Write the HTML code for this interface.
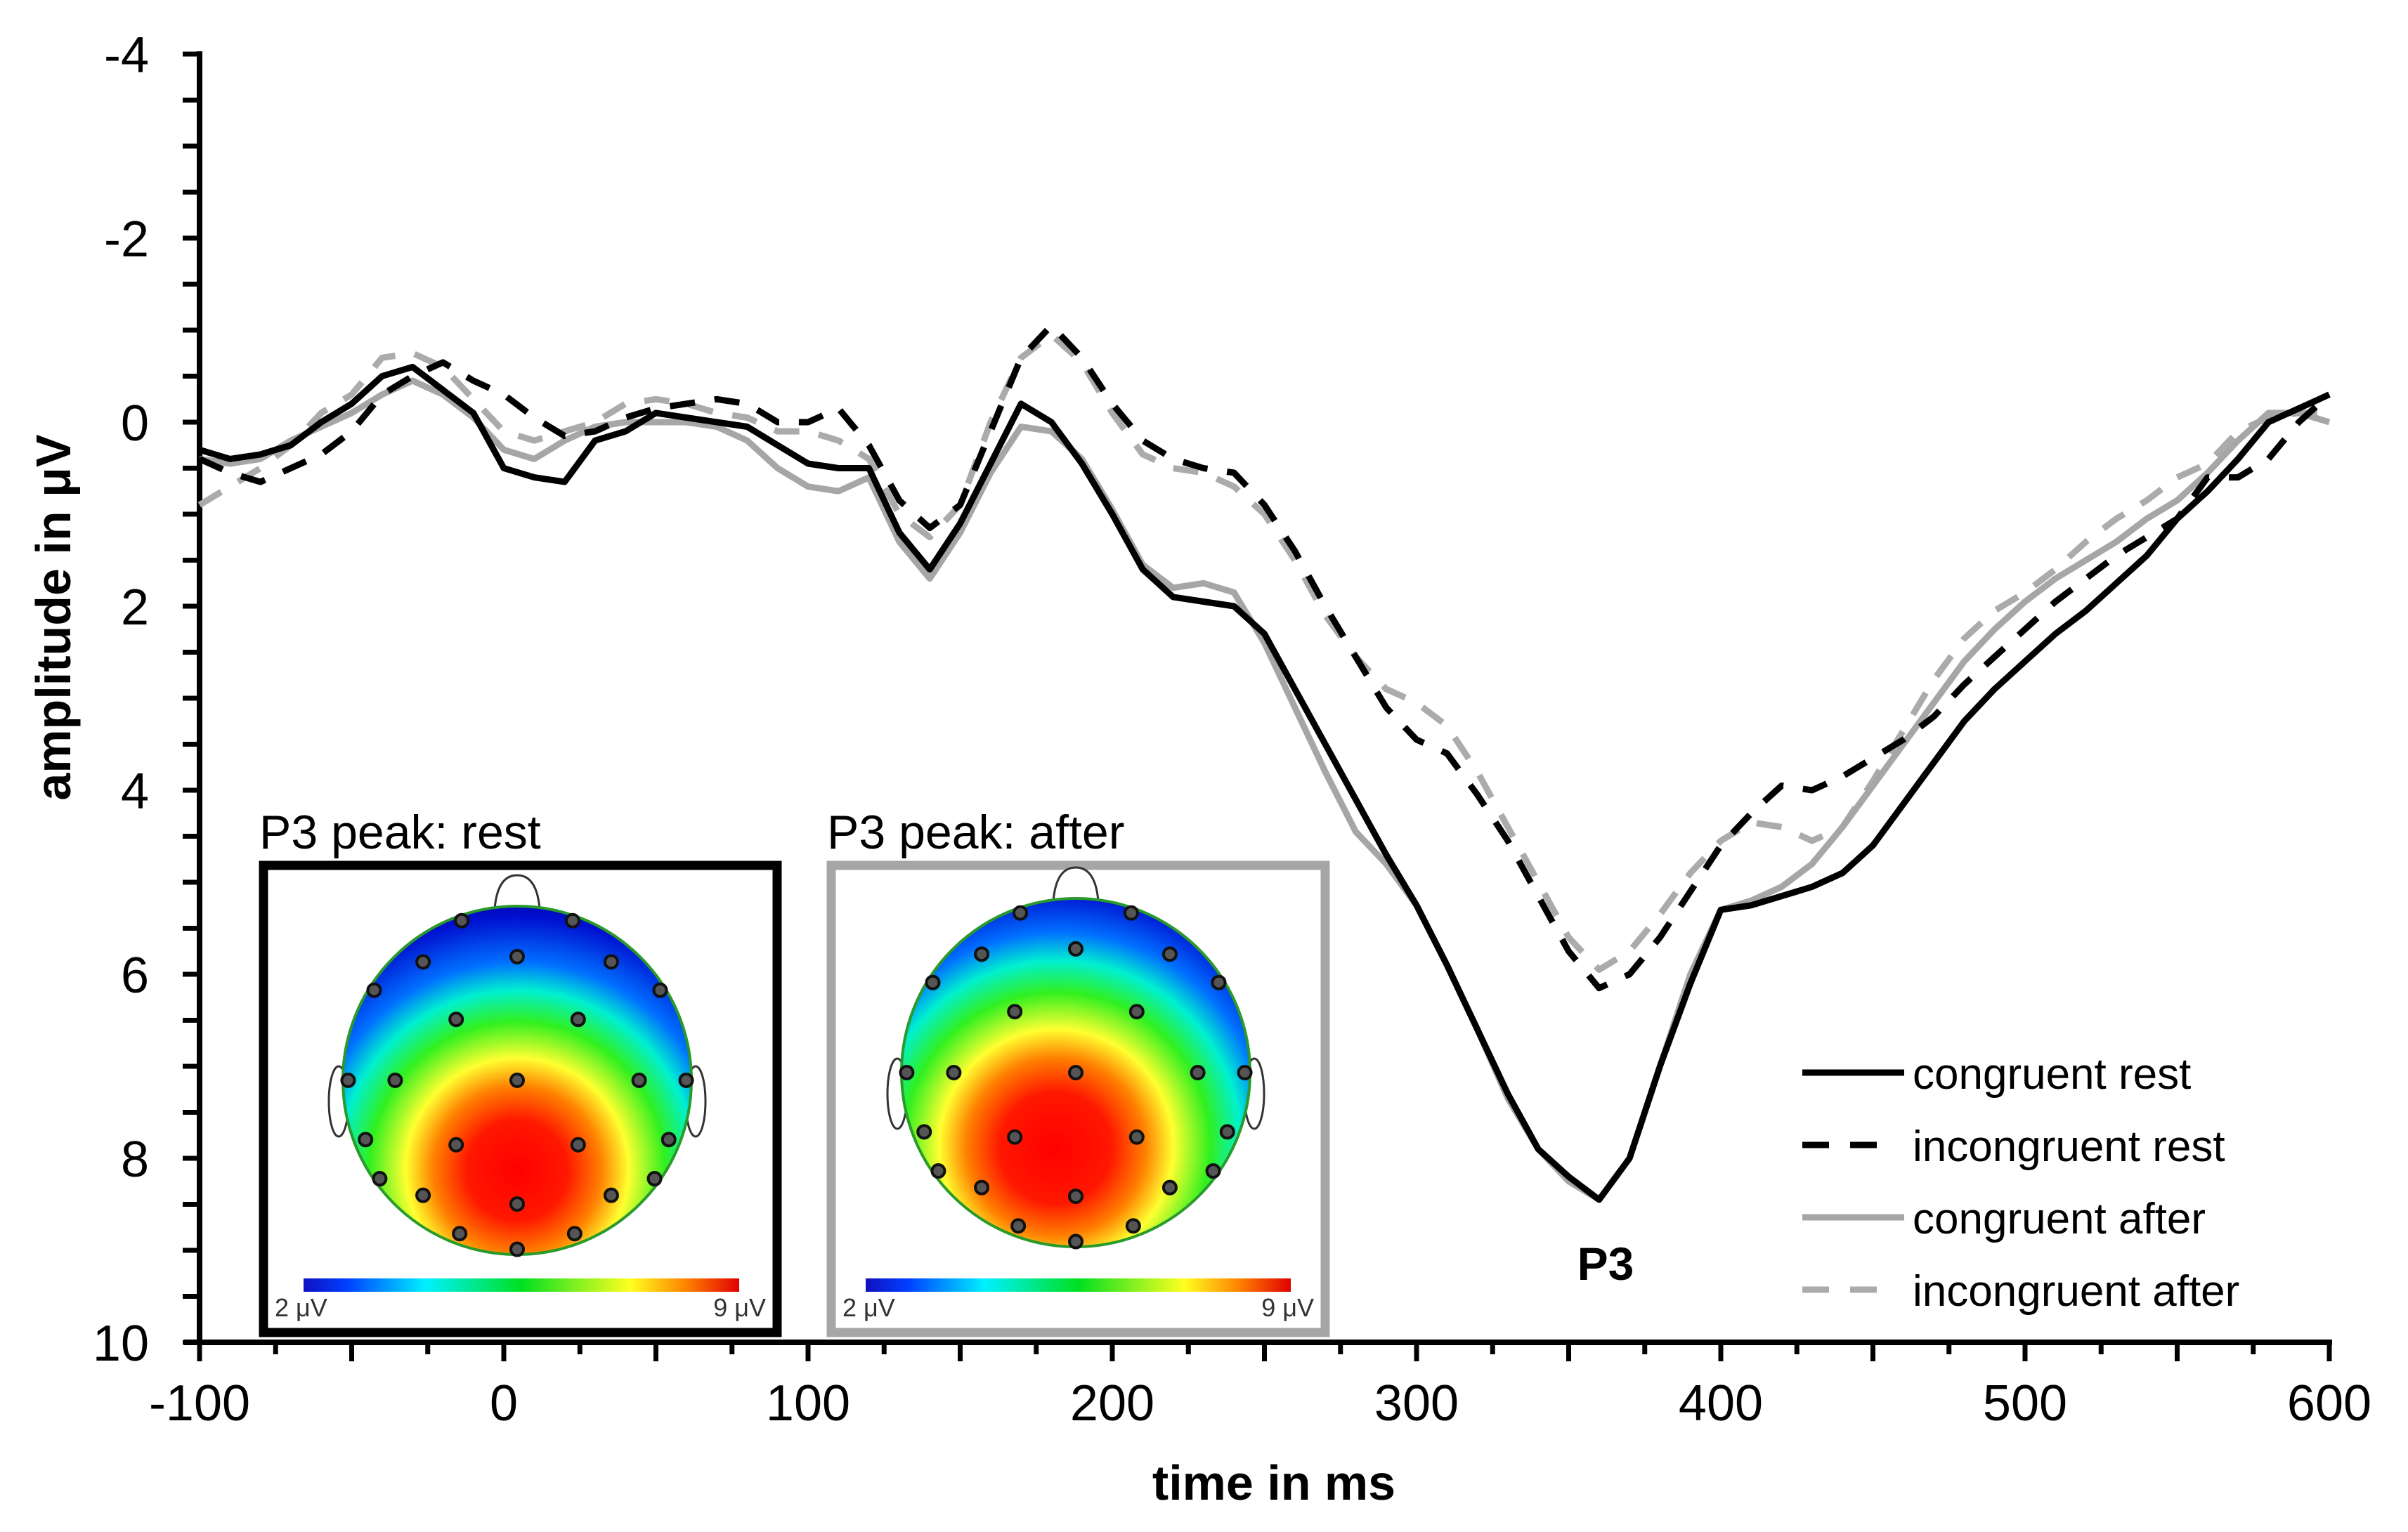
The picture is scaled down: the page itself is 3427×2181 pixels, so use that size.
<!DOCTYPE html>
<html><head><meta charset="utf-8"><style>html,body{margin:0;padding:0;background:#fff}svg{display:block}text{font-family:"Liberation Sans",Arial,sans-serif}</style></head>
<body>
<svg id="chart" width="3427" height="2181" viewBox="0 0 3427 2181" xmlns="http://www.w3.org/2000/svg">
<defs>
<linearGradient id="cbar" x1="0" x2="1" y1="0" y2="0">
<stop offset="0" stop-color="#1010c0"/><stop offset="0.1" stop-color="#0040ff"/><stop offset="0.28" stop-color="#00f0ff"/><stop offset="0.5" stop-color="#00e020"/><stop offset="0.75" stop-color="#ffff20"/><stop offset="0.88" stop-color="#ff8000"/><stop offset="1" stop-color="#e00000"/>
</linearGradient>
<radialGradient id="heat1" cx="0.5" cy="0.75" r="0.8" fx="0.5" fy="0.76">
<stop offset="0" stop-color="#ff0000"/><stop offset="0.18" stop-color="#ff1800"/><stop offset="0.3" stop-color="#ff8000"/><stop offset="0.4" stop-color="#ffff30"/><stop offset="0.53" stop-color="#30f020"/><stop offset="0.64" stop-color="#00f0d0"/><stop offset="0.74" stop-color="#0070ff"/><stop offset="0.9" stop-color="#0010d0"/><stop offset="1" stop-color="#0000a0"/>
</radialGradient>
<radialGradient id="heat2" cx="0.45" cy="0.7" r="0.8" fx="0.44" fy="0.72">
<stop offset="0" stop-color="#ff0000"/><stop offset="0.2" stop-color="#ff1800"/><stop offset="0.32" stop-color="#ff8000"/><stop offset="0.42" stop-color="#ffff30"/><stop offset="0.55" stop-color="#30f020"/><stop offset="0.66" stop-color="#00f0d0"/><stop offset="0.76" stop-color="#0070ff"/><stop offset="0.9" stop-color="#0010d0"/><stop offset="1" stop-color="#0000a0"/>
</radialGradient>
</defs>
<g id="axes"></g>
<g id="insets"></g>
<g id="series"></g>
<g id="legend"></g>
<text x="2285" y="1822" font-size="66" font-weight="bold" text-anchor="middle">P3</text>
<text x="1813" y="2135" font-size="70" font-weight="bold" text-anchor="middle">time in ms</text>
<text x="0" y="0" font-size="70" font-weight="bold" text-anchor="middle" transform="translate(100,879) rotate(-90)">amplitude in μV</text>
</svg>
<script>
const times = [];
for (let t = -100; t <= 600; t += 10) times.push(t);
const congruentRest = [0.3,0.4,0.35,0.25,0.0,-0.2,-0.5,-0.6,-0.35,-0.1,0.5,0.6,0.65,0.2,0.1,-0.1,-0.05,0,0.05,0.25,0.45,0.5,0.5,1.2,1.6,1.1,0.45,-0.2,0.0,0.45,1.0,1.6,1.9,1.95,2.0,2.3,2.9,3.5,4.1,4.7,5.25,5.9,6.6,7.3,7.9,8.2,8.45,8.0,7.0,6.1,5.3,5.25,5.15,5.05,4.9,4.6,4.15,3.7,3.25,2.9,2.6,2.3,2.05,1.75,1.45,1.05,0.75,0.4,0.0,-0.15,-0.3];
const incongruentRest = [0.4,0.55,0.65,0.5,0.35,0.1,-0.3,-0.5,-0.65,-0.45,-0.3,-0.05,0.15,0.1,-0.05,-0.15,-0.2,-0.25,-0.2,0.0,0.0,-0.15,0.25,0.85,1.15,0.9,0.1,-0.7,-1.05,-0.7,-0.2,0.2,0.4,0.5,0.55,0.9,1.4,2.0,2.55,3.1,3.45,3.6,4.05,4.55,5.15,5.75,6.15,6.0,5.6,5.1,4.6,4.25,3.95,4.0,3.85,3.65,3.45,3.2,2.85,2.55,2.25,1.95,1.7,1.45,1.25,1.05,0.6,0.6,0.4,0.0,-0.3];
const congruentAfter = [0.4,0.45,0.4,0.2,0.05,-0.1,-0.3,-0.45,-0.3,-0.05,0.3,0.4,0.2,0.05,0.0,0.0,0.0,0.05,0.2,0.5,0.7,0.75,0.6,1.3,1.7,1.2,0.55,0.05,0.1,0.4,0.95,1.55,1.8,1.75,1.85,2.4,3.1,3.8,4.45,4.8,5.25,5.9,6.6,7.35,7.9,8.25,8.45,8.0,7.0,6.0,5.3,5.2,5.05,4.8,4.4,3.95,3.5,3.05,2.6,2.25,1.95,1.7,1.5,1.3,1.05,0.85,0.55,0.2,-0.1,-0.1,0.0];
const incongruentAfter = [0.9,0.7,0.5,0.25,-0.1,-0.3,-0.7,-0.75,-0.6,-0.25,0.1,0.2,0.1,0.0,-0.2,-0.25,-0.2,-0.1,-0.05,0.1,0.1,0.2,0.4,1.0,1.25,0.9,0.0,-0.7,-0.95,-0.65,-0.1,0.35,0.5,0.55,0.7,1.0,1.5,2.1,2.55,2.9,3.05,3.3,3.8,4.4,5.0,5.6,5.95,5.75,5.35,4.9,4.55,4.35,4.4,4.55,4.4,3.9,3.35,2.8,2.35,2.05,1.85,1.6,1.3,1.05,0.85,0.6,0.45,0.1,-0.05,-0.1,-0.1];
const yTickLabels = [-4,-2,0,2,4,6,8,10];
const xTickLabels = [-100,0,100,200,300,400,500,600];
const legendLabels = ["congruent rest","incongruent rest","congruent after","incongruent after"];

const NS = "http://www.w3.org/2000/svg";
const X0 = 284, XPX = 4.33, Y0 = 601, YPX = 131;
function xs(t){ return X0 + (t + 100) * XPX; }
function ys(v){ return Y0 + v * YPX; }
function mk(tag, attrs, parent){ const e = document.createElementNS(NS, tag); for (const k in attrs) e.setAttribute(k, attrs[k]); parent.appendChild(e); return e; }

const axes = document.getElementById('axes');
let e;
e = mk('line', {x1: xs(-100), y1: ys(-4) - 4, x2: xs(-100), y2: ys(10) + 4, stroke: '#000', 'stroke-width': 8}, axes);


e = mk('line', {x1: xs(-100) - 22, y1: ys(10), x2: xs(600) + 4, y2: ys(10), stroke: '#000', 'stroke-width': 8}, axes);


for (let v = -4; v <= 10; v += 0.5) {
  e = mk('line', {x1: xs(-100) - 24, y1: ys(v), x2: xs(-100), y2: ys(v), stroke: '#000', 'stroke-width': 7}, axes);
  
  
}
for (let t = -100; t <= 600; t += 25) {
  const major = (t % 50 === 0);
  e = mk('line', {x1: xs(t), y1: ys(10), x2: xs(t), y2: ys(10) + (major ? 27 : 17), stroke: '#000', 'stroke-width': 7}, axes);
  
  
}
yTickLabels.forEach(v => {
  e = mk('text', {x: 212, y: ys(v) + 26, 'font-size': 72, 'text-anchor': 'end'}, axes);
  e.textContent = v;
  
  
});
xTickLabels.forEach(t => {
  e = mk('text', {x: xs(t), y: 2022, 'font-size': 72, 'text-anchor': 'middle'}, axes);
  e.textContent = t;
  
  
});

const styles = [
  {data: congruentRest, color: '#000', dash: null, name: 'congruent-rest-line'},
  {data: incongruentRest, color: '#000', dash: '36 28', name: 'incongruent-rest-line'},
  {data: congruentAfter, color: '#a6a6a6', dash: null, name: 'congruent-after-line'},
  {data: incongruentAfter, color: '#ababab', dash: '36 28', name: 'incongruent-after-line'}
];
const series = document.getElementById('series');
[3,2,1,0].forEach(i => {
  const s = styles[i];
  const d = s.data.map((v, j) => (j ? 'L' : 'M') + xs(times[j]).toFixed(1) + ' ' + ys(v).toFixed(1)).join(' ');
  const attrs = {d: d, fill: 'none', stroke: s.color, 'stroke-width': 9, 'stroke-linejoin': 'round'};
  if (s.dash) attrs['stroke-dasharray'] = s.dash;
  e = mk('path', attrs, series);
  
  
});

const legend = document.getElementById('legend');
legendLabels.forEach((lab, i) => {
  const y = 1541 + i * 103;
  const s = styles[i];
  const la = {x1: 2565, y1: y - 14, x2: s.dash ? 2680 : 2710, y2: y - 14, stroke: s.color, 'stroke-width': 9};
  if (s.dash) la['stroke-dasharray'] = '38 30';
  e = mk('line', la, legend);
  
  
  e = mk('text', {x: 2722, y: y + 9, 'font-size': 62}, legend);
  e.textContent = lab;
  
  
});

// topographic insets
const electrodes = [[-0.33,-0.95],[0.33,-0.95],[0,-0.71],[-0.54,-0.68],[0.54,-0.68],[-0.92,-0.58],[0.92,-0.58],[-0.35,-0.35],[0.35,-0.35],[-0.99,0],[0.99,0],[-0.7,0],[0,0],[0.7,0],[-0.87,0.34],[0.87,0.34],[-0.35,0.37],[0.35,0.37],[-0.81,0.58],[0.81,0.58],[-0.54,0.66],[0.54,0.66],[0,0.71],[-0.33,0.88],[0.33,0.88],[0,0.99]];
const insets = document.getElementById('insets');
function inset(cfg){
  const g = mk('g', {}, insets);
  
  
  e = mk('text', {x: cfg.bx - 6, y: 1208, 'font-size': 68}, g);
  e.textContent = cfg.title;
  
  
  e = mk('rect', {x: cfg.bx, y: 1232, width: cfg.bw, height: 665, fill: '#fff', stroke: cfg.border, 'stroke-width': 13}, g);
  
  
  const cx = cfg.cx, cy = cfg.cy, r = 248;
  mk('path', {d: `M${cx-32} ${cy-r+4} Q${cx-28} ${cy-r-44} ${cx} ${cy-r-44} Q${cx+28} ${cy-r-44} ${cx+32} ${cy-r+4}`, fill: '#fff', stroke: '#333', 'stroke-width': 3}, g);
  mk('ellipse', {cx: cx - r - 6, cy: cy + 30, rx: 14, ry: 50, fill: '#fff', stroke: '#333', 'stroke-width': 3}, g);
  mk('ellipse', {cx: cx + r + 6, cy: cy + 30, rx: 14, ry: 50, fill: '#fff', stroke: '#333', 'stroke-width': 3}, g);
  e = mk('circle', {cx: cx, cy: cy, r: r, fill: `url(#${cfg.grad})`, stroke: '#2a9a2a', 'stroke-width': 4}, g);
  
  
  electrodes.forEach(p => {
    let px = p[0], py = p[1];
    const m = Math.hypot(px, py);
    if (m > 0.97) { px = px / m * 0.97; py = py / m * 0.97; }
    e = mk('circle', {cx: cx + px * r, cy: cy + py * r, r: 9, fill: '#555', stroke: '#111', 'stroke-width': 4}, g);
    
    
  });
  e = mk('rect', {x: cfg.cb0, y: 1820, width: cfg.cb1 - cfg.cb0, height: 19, fill: 'url(#cbar)'}, g);
  
  
  e = mk('text', {x: cfg.bx + 16, y: 1874, 'font-size': 36, fill: '#333'}, g);
  e.textContent = '2 μV';
  
  
  e = mk('text', {x: cfg.bx + cfg.bw - 16, y: 1874, 'font-size': 36, fill: '#333', 'text-anchor': 'end'}, g);
  e.textContent = '9 μV';
  
  
}
inset({name: 'inset-rest', title: 'P3 peak:  rest', bx: 375, bw: 731, border: '#000', cx: 736, cy: 1538, grad: 'heat1', cb0: 432, cb1: 1052});
inset({name: 'inset-after', title: 'P3 peak:  after', bx: 1183, bw: 703, border: '#a6a6a6', cx: 1531, cy: 1527, grad: 'heat2', cb0: 1232, cb1: 1837});
</script>
</body></html>
